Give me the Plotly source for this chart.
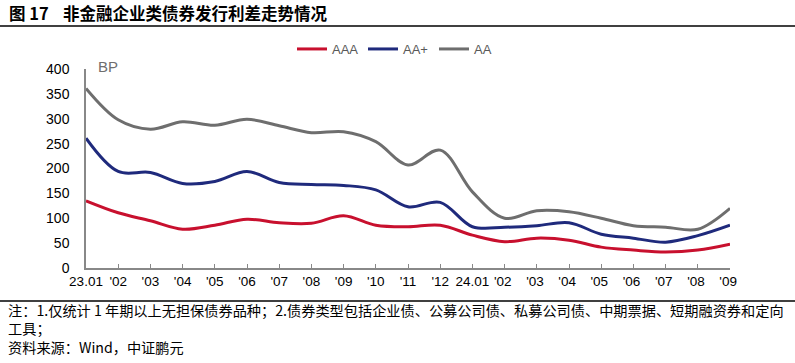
import plotly.graph_objects as go

categories = ["23.01", "'02", "'03", "'04", "'05", "'06", "'07", "'08", "'09", "'10", "'11", "'12",
              "24.01", "'02 ", "'03 ", "'04 ", "'05 ", "'06 ", "'07 ", "'08 ", "'09 "]
aaa = [135, 111, 95, 78, 86, 98, 91, 90, 105, 86, 83, 86, 66, 53, 60, 56, 42, 36, 32, 36, 48]
aa_plus = [261, 194, 192, 170, 174, 194, 172, 168, 166, 157, 123, 132, 83, 82, 85, 91, 68, 60, 52, 65, 86]
aa = [361, 298, 279, 294, 287, 299, 286, 272, 274, 254, 207, 237, 153, 100, 115, 113, 100, 85, 82, 78, 120]
y_ticks = [0, 50, 100, 150, 200, 250, 300, 350, 400]

series = [("AAA", aaa, "#C8102E"), ("AA+", aa_plus, "#1F2A7C"), ("AA", aa, "#6E6E6E")]

FONT = "Liberation Sans, Arial, sans-serif"
CJK = "Noto Sans CJK SC, sans-serif"

fig = go.Figure()
for name, vals, color in series:
    fig.add_trace(go.Scatter(x=categories, y=vals, name=name, mode="lines",
                             line=dict(color=color, width=3, shape="spline", smoothing=1)))

W, H = 795, 363
L, R, T, B = 86, 65, 69, 95
pw, ph = W - L - R, H - T - B

def px(x):
    return (x - L) / pw

def py(y):
    return (H - B - y) / ph

fig.update_layout(
    width=W, height=H,
    margin=dict(l=L, r=R, t=T, b=B),
    paper_bgcolor="white", plot_bgcolor="white",
    font=dict(family=FONT, size=14, color="#000"),
    showlegend=True,
    legend=dict(orientation="h", x=px(292), y=py(49), xanchor="left", yanchor="middle",
                font=dict(family=FONT, size=13, color="#595959"),
                entrywidth=26, entrywidthmode="pixels", tracegroupgap=0,
                bgcolor="rgba(0,0,0,0)"),
    xaxis=dict(type="category", showgrid=False, showline=True, linecolor="#888", linewidth=1.5,
               ticks="inside", ticklen=4, tickcolor="#888", tickfont=dict(family=FONT, size=13.5, color="#000"),
               range=[0, len(categories) - 1], tickangle=0),
    yaxis=dict(range=[0, 400], tickvals=y_ticks, showgrid=False, showline=True, linecolor="#888",
               linewidth=1.5, ticks="", zeroline=False, tickfont=dict(family=FONT, size=14, color="#000"),
               ticklabelstandoff=12),
)

shapes = [
    dict(type="line", xref="paper", yref="paper", x0=px(0), x1=px(795), y0=py(26), y1=py(26),
         line=dict(color="#000", width=1.5)),
    dict(type="line", xref="paper", yref="paper", x0=px(0), x1=px(795), y0=py(301), y1=py(301),
         line=dict(color="#000", width=1.5)),
]
fig.update_layout(shapes=shapes)

notes = ("注：1.仅统计 1 年期以上无担保债券品种；2.债券类型包括企业债、公募公司债、私募公司债、中期票据、短期融资券和定向"
         "<br>工具；<br>资料来源：Wind，中证鹏元")

annotations = [
    dict(text="<b>图 17</b>", x=px(8), y=py(13), xanchor="left", yanchor="middle",
         font=dict(family=CJK, size=16.5, color="#000")),
    dict(text="<b>非金融企业类债券发行利差走势情况</b>", x=px(62), y=py(13), xanchor="left", yanchor="middle",
         font=dict(family=CJK, size=16.5, color="#000")),
    dict(text="BP", x=px(97), y=py(67), xanchor="left", yanchor="middle",
         font=dict(family=FONT, size=15, color="#6E6E6E")),
    dict(text=notes, x=px(7), y=py(328), xanchor="left", yanchor="middle", align="left",
         font=dict(family=CJK, size=14.2, color="#000")),
]
for a in annotations:
    a.update(xref="paper", yref="paper", showarrow=False, borderpad=0)
fig.update_layout(annotations=annotations)

fig.write_html("out.html", config={"displayModeBar": False},
               post_script="document.body.style.margin='0';document.body.style.padding='0';")
